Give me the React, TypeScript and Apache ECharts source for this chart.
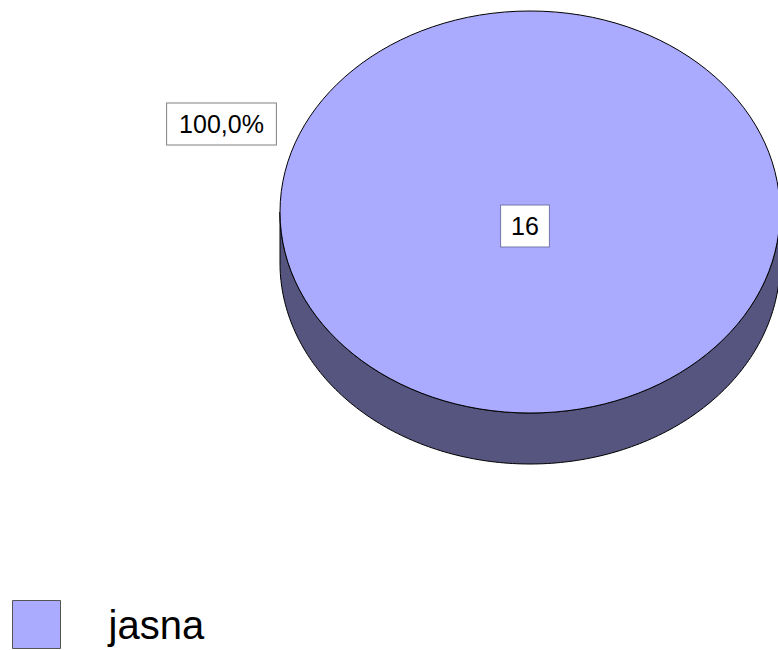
import React, { useEffect, useRef } from "react";
import * as echarts from "echarts";

const categories = ["jasna"];
const values = [16];
const colors = ["#aaaaff"];
const sideColors = ["#55557f"];

export default function App() {
  const ref = useRef<HTMLDivElement>(null);
  useEffect(() => {
    document.body.style.margin = "0";
    const chart = echarts.init(ref.current!, null, { renderer: "svg" });
    const total = values.reduce((a, b) => a + b, 0);
    const cx = 530, cy = 212, rx = 250, ry = 201, depth = 51;
    const font = "'Liberation Sans', Arial, sans-serif";

    const renderItem = (params: any, api: any) => {
      const idx = params.dataIndex;
      const v = api.value(0);
      let before = 0;
      for (let i = 0; i < idx; i++) before += values[i];
      const startDeg = 90 - (before / total) * 360;
      const endDeg = 90 - ((before + v) / total) * 360;
      const frac = v / total;
      const pt = (deg: number, dy = 0) => {
        const r = (deg * Math.PI) / 180;
        return [cx + rx * Math.cos(r), cy - ry * Math.sin(r) + dy];
      };
      const children: any[] = [];
      const segs: [number, number][] = [];
      const ranges = [[-180, 0], [180, 360], [-540, -360]];
      ranges.forEach(([a, b]) => {
        const l = Math.max(endDeg, a);
        const h = Math.min(startDeg, b);
        if (h > l) segs.push([l, h]);
      });
      segs.forEach(([l, h]) => {
        const top: number[][] = [];
        const bot: number[][] = [];
        const n = 180;
        for (let k = 0; k <= n; k++) {
          const d = l + ((h - l) * k) / n;
          top.push(pt(d));
          bot.push(pt(d, depth));
        }
        children.push({
          type: "polygon",
          shape: { points: top.concat(bot.reverse()) },
          style: { fill: sideColors[idx % sideColors.length], stroke: "#000", lineWidth: 1 },
        });
      });
      if (frac >= 0.9999) {
        children.push({
          type: "ellipse",
          shape: { cx, cy, rx, ry },
          style: { fill: colors[idx % colors.length], stroke: "#000", lineWidth: 1 },
        });
      } else {
        const pts: number[][] = [[cx, cy]];
        const n = 180;
        for (let k = 0; k <= n; k++) pts.push(pt(startDeg + ((endDeg - startDeg) * k) / n));
        children.push({
          type: "polygon",
          shape: { points: pts },
          style: { fill: colors[idx % colors.length], stroke: "#000", lineWidth: 1 },
        });
      }
      children.push({
        type: "text",
        style: {
          text: String(v),
          x: 525,
          y: 226,
          align: "center",
          verticalAlign: "middle",
          fontSize: 25,
          fontFamily: font,
          fill: "#000",
          backgroundColor: "#fff",
          borderColor: "#7777aa",
          borderWidth: 1,
          padding: [8, 10, 8, 10],
        },
      });
      children.push({
        type: "text",
        style: {
          text: ((v / total) * 100).toFixed(1).replace(".", ",") + "%",
          x: 221.5,
          y: 124,
          align: "center",
          verticalAlign: "middle",
          fontSize: 25,
          fontFamily: font,
          fill: "#000",
          backgroundColor: "#fff",
          borderColor: "#808080",
          borderWidth: 1,
          padding: [8, 12, 8, 12],
        },
      });
      return { type: "group", children };
    };

    chart.setOption({
      animation: false,
      legend: {
        left: 7,
        top: 595,
        itemWidth: 48,
        itemHeight: 48,
        icon: "rect",
        selectedMode: false,
        itemStyle: { borderColor: "#555", borderWidth: 1 },
        textStyle: { fontSize: 40, color: "#000", fontFamily: font, padding: [0, 0, 0, 43] },
        data: categories.map((c) => c),
      },
      series: [
        {
          type: "custom",
          name: categories[0],
          coordinateSystem: "none",
          renderItem,
          itemStyle: { color: colors[0] },
          data: values.map((v, i) => ({ name: categories[i], value: [v] })),
        },
      ],
    });
    return () => chart.dispose();
  }, []);
  return <div ref={ref} style={{ width: 778, height: 650 }} />;
}
